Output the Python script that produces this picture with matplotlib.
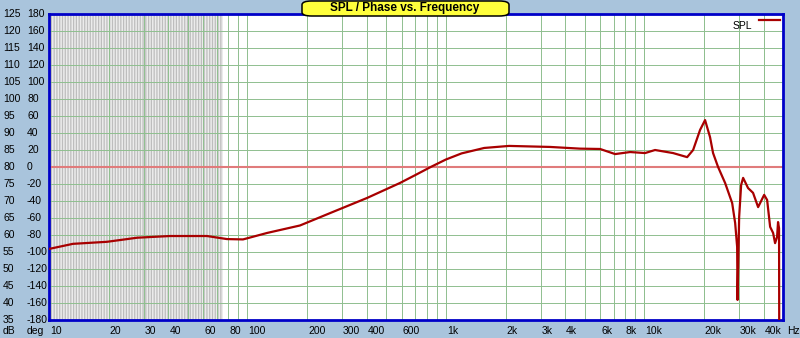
import numpy as np
import matplotlib
matplotlib.use("Agg")
import matplotlib.pyplot as plt
import matplotlib.transforms as mtransforms
from matplotlib.patches import FancyBboxPatch

plt.rcParams['font.family'] = ['Liberation Sans', 'DejaVu Sans']
plt.rcParams['hatch.linewidth'] = 0.9

# SPL curve (Hz, dB)
freq = [10, 13.2, 19.6, 27.8, 40.7, 62.5, 78.9, 95, 125.6, 184, 270, 401, 587, 700, 832,
        1000, 1200, 1560, 2083, 3350, 4745, 5985, 7128, 8480, 10090, 11330, 13960, 16440,
        17620, 19100, 20240, 21440, 22210, 23540, 25540, 27720, 28700, 29370, 29500,
        30060, 30760, 31480, 33340, 35320, 37460, 40180, 41590, 43060, 44580, 45610,
        46670, 47210, 47760, 47900]
spl = [55.9, 57.4, 58.0, 59.2, 59.7, 59.7, 58.8, 58.7, 60.6, 62.8, 66.8, 70.9, 75.3, 77.6, 79.9,
       82.2, 84.0, 85.6, 86.2, 85.9, 85.4, 85.3, 83.8, 84.4, 84.1, 85.0, 84.1, 82.9,
       85.0, 90.9, 93.8, 88.8, 84.1, 80.0, 75.3, 69.4, 63.5, 56.5, 40.9,
       65.3, 74.7, 76.8, 73.8, 72.4, 68.2, 71.8, 70.3, 62.4, 60.6, 57.6,
       59.4, 63.8, 62.0, 20.0]

db_ticks = list(range(125, 34, -5))
deg_ticks = list(range(180, -181, -20))
x_ticks = [10, 20, 30, 40, 60, 80, 100, 200, 300, 400, 600, 1000, 2000, 3000,
           4000, 6000, 8000, 10000, 20000, 30000, 40000]
x_labels = ['10', '20', '30', '40', '60', '80', '100', '200', '300', '400', '600',
            '1k', '2k', '3k', '4k', '6k', '8k', '10k', '20k', '30k', '40k']

bg = '#a9c4dc'
grid_green = '#8fbf8f'
fig = plt.figure(figsize=(8, 3.38), dpi=100, facecolor=bg)
ax = fig.add_axes([49/800, 18/338, 734/800, 306/338])
ax.set_facecolor('white')
ax.set_xscale('log')
ax.set_xlim(10, 50000)
ax.set_ylim(35, 125)

# dense grey band at low frequencies
ax.axvspan(10, 75, facecolor='#ececec', edgecolor='#bdbdbd', hatch='||||||', linewidth=0, zorder=0)

# grid
vlines = [n * 10**k for k in range(1, 5) for n in range(1, 10)] + [10000 * n for n in range(1, 6)]
ax.vlines(vlines, 35, 125, colors=grid_green, linewidth=0.7, zorder=1)
ax.hlines(db_ticks, 10, 50000, colors=grid_green, linewidth=0.7, zorder=1)
ax.axhline(80, color='#e07b7b', linewidth=1.5, zorder=2)

ax.plot(freq, spl, color='#a80000', linewidth=1.6, zorder=3)

ax.set_xticks([])
ax.set_yticks([])
ax.minorticks_off()
for s in ax.spines.values():
    s.set_color('#0000c8')
    s.set_linewidth(2)

fs = 7.5
tr = mtransforms.blended_transform_factory(fig.transFigure, ax.transData)
for d, p in zip(db_ticks, deg_ticks):
    ax.text(3/800, d, str(d), transform=tr, fontsize=fs, ha='left', va='center', clip_on=False)
    ax.text(27/800, p / 4 + 80, str(p), transform=tr, fontsize=fs, ha='left', va='center', clip_on=False)
fig.text(3/800, 1 - 331/338, 'dB', fontsize=fs, ha='left', va='center')
fig.text(27/800, 1 - 331/338, 'deg', fontsize=fs, ha='left', va='center')

trx = mtransforms.blended_transform_factory(ax.transData, fig.transFigure)
for xv, lab in zip(x_ticks, x_labels):
    ax.text(xv * 1.01, 1 - 331/338, lab, transform=trx, fontsize=fs, ha='left', va='center', clip_on=False)
fig.text(787/800, 1 - 331/338, 'Hz', fontsize=fs, ha='left', va='center')

# legend
fig.text(752/800, 1 - 26/338, 'SPL', fontsize=fs, ha='right', va='center')
fig.add_artist(plt.Line2D([759/800, 780/800], [1 - 20/338, 1 - 20/338], color='#a80000', linewidth=1.6))

# title box
box = FancyBboxPatch((302/800, 1 - 16/338), 207/800, 15/338, boxstyle='round,pad=0,rounding_size=0.012',
                     transform=fig.transFigure, facecolor='#ffff3c', edgecolor='black', linewidth=1.1,
                     mutation_aspect=338/800 * 2.2)
fig.add_artist(box)
fig.text(405/800, 1 - 8.5/338, 'SPL / Phase vs. Frequency', fontsize=8.5, fontweight='bold',
         ha='center', va='center')

fig.savefig('out.png', dpi=100, facecolor=bg)
